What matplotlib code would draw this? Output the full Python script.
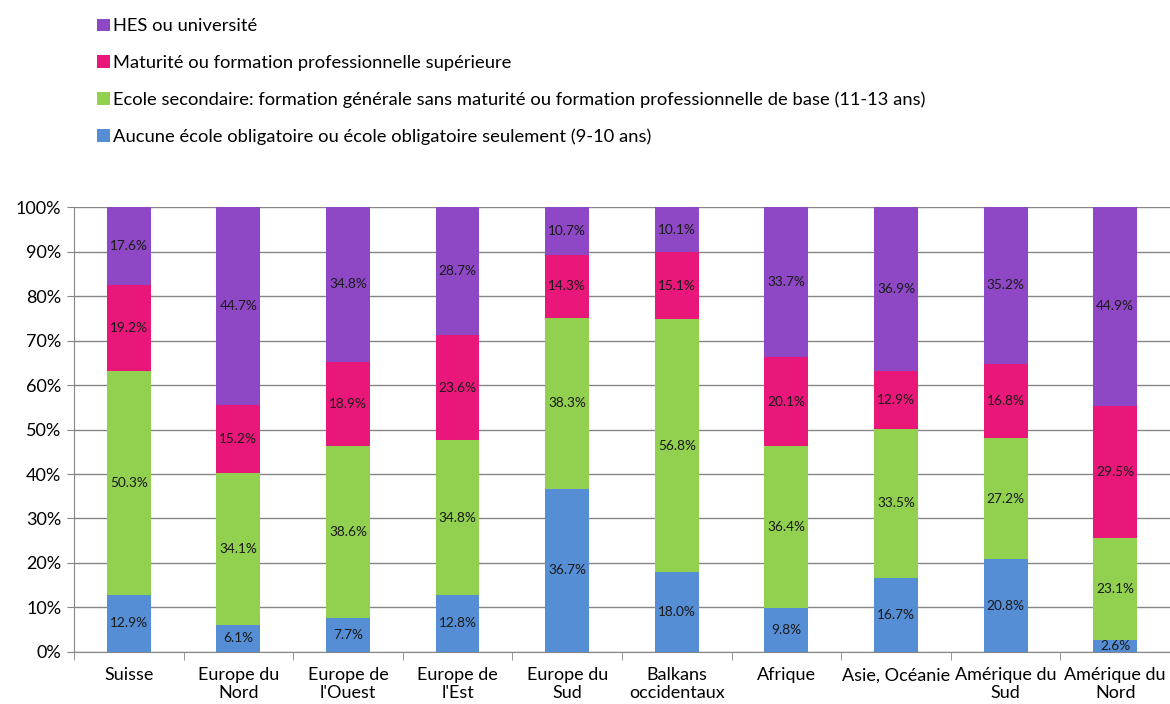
import matplotlib
matplotlib.use("Agg")
import matplotlib.pyplot as plt
import numpy as np

regions = ["Suisse", "Europe du\nNord", "Europe de\nl'Ouest", "Europe de\nl'Est", "Europe du\nSud",
           "Balkans\noccidentaux", "Afrique", "Asie, Océanie", "Amérique du\nSud", "Amérique du\nNord"]

series_names = [
    "Aucune école obligatoire ou école obligatoire seulement (9-10 ans)",
    "Ecole secondaire: formation générale sans maturité ou formation professionnelle de base (11-13 ans)",
    "Maturité ou formation professionnelle supérieure",
    "HES ou université",
]
obligatoire = [12.9, 6.1, 7.7, 12.8, 36.7, 18.0, 9.8, 16.7, 20.8, 2.6]
secondaire = [50.3, 34.1, 38.6, 34.8, 38.3, 56.8, 36.4, 33.5, 27.2, 23.1]
maturite = [19.2, 15.2, 18.9, 23.6, 14.3, 15.1, 20.1, 12.9, 16.8, 29.5]
hes = [17.6, 44.7, 34.8, 28.7, 10.7, 10.1, 33.7, 36.9, 35.2, 44.9]

colors = ["#558ed5", "#92d050", "#e9177a", "#8e48c6"]

plt.rcParams["font.family"] = ["Lato", "DejaVu Sans"]

fig = plt.figure(figsize=(11.7, 7.04), dpi=100)
ax = fig.add_axes([0.0632, 0.0739, 0.9368, 0.632])

x = np.arange(len(regions))
bottom = np.zeros(len(regions))
handles = []
for name, vals, col in zip(series_names, [obligatoire, secondaire, maturite, hes], colors):
    v = np.array(vals) / 100
    b = ax.bar(x, v, 0.4, bottom=bottom, color=col, label=name, zorder=3)
    handles.append(b)
    for xi, bi, vi in zip(x, bottom, v):
        ax.text(xi, bi + vi / 2, f"{vi * 100:.1f}%", ha="center", va="center",
                fontsize=9.8, color="#1a1a1a", zorder=4)
    bottom += v

ax.set_xlim(-0.5, len(regions) - 0.5)
ax.set_ylim(0, 1)
ax.set_yticks(np.arange(0, 1.01, 0.1))
ax.set_yticklabels([f"{int(round(t * 100))}%" for t in np.arange(0, 1.01, 0.1)], fontsize=13)
ax.set_xticks(x)
ax.set_xticklabels(regions, fontsize=13, linespacing=1.1)
ax.set_xticks(np.arange(-0.5, len(regions)), minor=True)
ax.tick_params(axis="x", which="major", length=0, pad=11)
ax.tick_params(axis="x", which="minor", length=6, color="#868686")
ax.tick_params(axis="y", length=5, color="#868686", pad=4)
ax.grid(axis="y", color="#868686", linewidth=1, zorder=0)
for s in ["top", "right"]:
    ax.spines[s].set_visible(False)
for s in ["left", "bottom"]:
    ax.spines[s].set_color("#868686")

fig.legend(handles[::-1], series_names[::-1], loc="upper left", bbox_to_anchor=(0.072, 0.992),
           frameon=False, fontsize=13.2, handlelength=0.7, handleheight=0.7,
           handletextpad=0.15, labelspacing=1.12, borderaxespad=0.3)

fig.savefig("out.png", dpi=100)
